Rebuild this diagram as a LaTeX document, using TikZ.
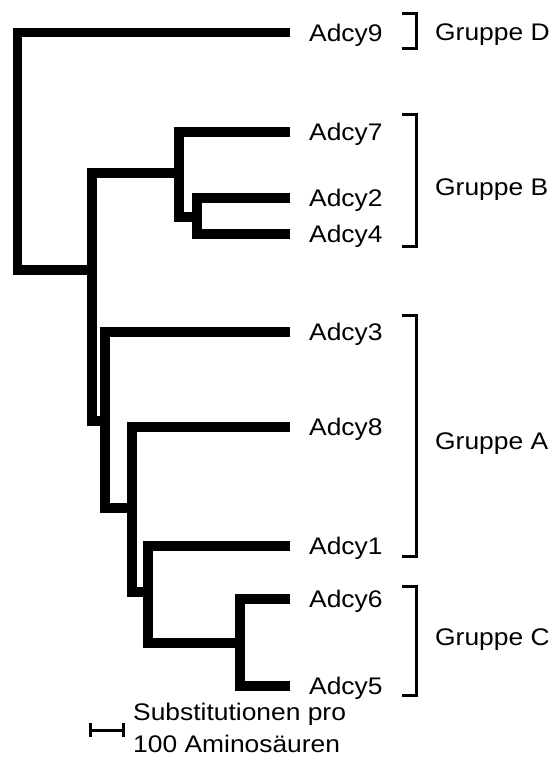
\documentclass[tikz,border=0pt]{standalone}
\usepackage{fontspec}
\setmainfont[FakeStretch=1.1]{Liberation Sans}
\begin{document}
\begin{tikzpicture}[x=1pt,y=-1pt,
  branch/.style={line width=9.5pt, line join=miter, line cap=butt},
  brk/.style={line width=3pt, line join=miter},
  lab/.style={anchor=base west, inner sep=0pt, font=\fontsize{24}{30}\selectfont}]
\useasboundingbox (0,0) rectangle (554,758);
% leaf tips
\coordinate (t9) at (290,32.5);
\coordinate (t7) at (290,132);
\coordinate (t2) at (290,198);
\coordinate (t4) at (290,234);
\coordinate (t3) at (290,332);
\coordinate (t8) at (290,427);
\coordinate (t1) at (290,546);
\coordinate (t6) at (290,599);
\coordinate (t5) at (290,686);
% internal nodes
\coordinate (nT) at (240,643);
\coordinate (nU) at (148,592);
\coordinate (nV) at (132,508);
\coordinate (nZ) at (105,421);
\coordinate (nW) at (197,217);
\coordinate (nY) at (179,173);
\coordinate (nX) at (92,270);
\coordinate (nR) at (17.5,150);
% branches
\draw[branch] (t9) -| (nR) |- (nX);
\draw[branch] (nY) -| (nX) |- (nZ);
\draw[branch] (t7) -| (nY) |- (nW);
\draw[branch] (t2) -| (nW) |- (t4);
\draw[branch] (t3) -| (nZ) |- (nV);
\draw[branch] (t8) -| (nV) |- (nU);
\draw[branch] (t1) -| (nU) |- (nT);
\draw[branch] (t6) -| (nT) |- (t5);
% leaf labels
\foreach \i in {9,7,2,4,3,8,1,6,5}
  \node[lab] (l\i) at ([xshift=19pt,yshift=-8.6pt]t\i) {Adcy\i};
% brackets
\coordinate (bDt) at (402,13.5);  \coordinate (bDb) at (402,48.5);
\coordinate (bBt) at (402,114.5); \coordinate (bBb) at (402,246.5);
\coordinate (bAt) at (402,315.5); \coordinate (bAb) at (402,556.5);
\coordinate (bCt) at (402,586.5); \coordinate (bCb) at (402,695.5);
\foreach \g in {D,B,A,C}
  \draw[brk] (b\g t) -| ([xshift=14.5pt]b\g b) -- (b\g b);
\node[lab] (gD) at (435,40.6) {Gruppe D};
\node[lab] (gB) at (435,195.6) {Gruppe B};
\node[lab] (gA) at (435,449) {Gruppe A};
\node[lab] (gC) at (435,645.6) {Gruppe C};
% scale bar
\coordinate (s1) at (90,730);
\coordinate (s2) at (123,730);
\draw[line width=3pt] (s1) -- (s2);
\draw[line width=3pt] ([yshift=7pt]s1) -- ([yshift=-7pt]s1);
\draw[line width=3pt] ([yshift=7pt]s2) -- ([yshift=-7pt]s2);
\node[lab] (sc1) at (133,720.5) {Substitutionen pro};
\node[lab] (sc2) at (133,752) {100 Aminosäuren};
\end{tikzpicture}
\end{document}
